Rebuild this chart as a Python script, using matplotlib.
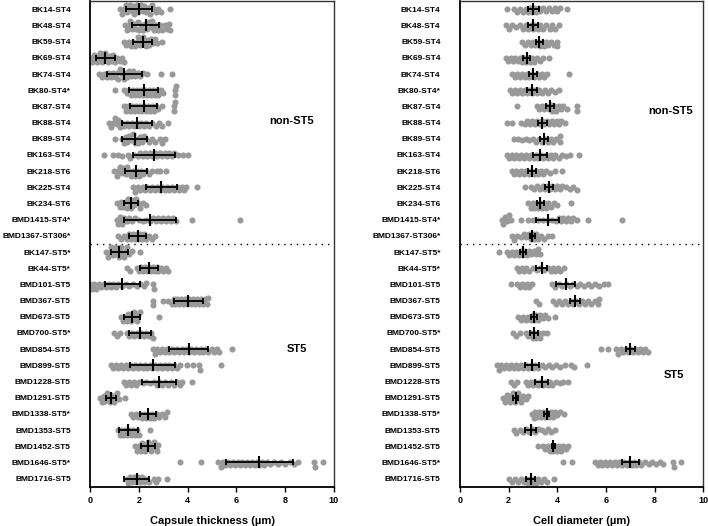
import numpy as np
import matplotlib
matplotlib.use('Agg')
from matplotlib import pyplot as plt

plt.rcParams['font.family'] = ['Liberation Sans', 'DejaVu Sans']
plt.rcParams['font.weight'] = 'bold'

strains = ['BK14-ST4', 'BK48-ST4', 'BK59-ST4', 'BK69-ST4', 'BK74-ST4', 'BK80-ST4*',
           'BK87-ST4', 'BK88-ST4', 'BK89-ST4', 'BK163-ST4', 'BK218-ST6', 'BK225-ST4',
           'BK234-ST6', 'BMD1415-ST4*', 'BMD1367-ST306*', 'BK147-ST5*', 'BK44-ST5*',
           'BMD101-ST5', 'BMD367-ST5', 'BMD673-ST5', 'BMD700-ST5*', 'BMD854-ST5',
           'BMD899-ST5', 'BMD1228-ST5', 'BMD1291-ST5', 'BMD1338-ST5*', 'BMD1353-ST5',
           'BMD1452-ST5', 'BMD1646-ST5*', 'BMD1716-ST5']

# capsule thickness (um), one list per strain
capsule_points = [
    [1.22,1.30,1.38,1.45,1.52,1.58,1.63,1.70,1.75,1.80,1.86,1.92,1.97,2.03,2.08,2.15,2.22,2.30,2.38,2.45,2.52,2.60,2.70,2.80,2.92,3.27],
    [1.42,1.50,1.58,1.65,1.72,1.80,1.88,1.95,2.02,2.10,2.18,2.25,2.32,2.40,2.48,2.55,2.62,2.70,2.78,2.86,2.95,3.05,3.15,3.22,3.27],
    [1.38,1.48,1.58,1.66,1.74,1.82,1.90,1.97,2.04,2.10,2.16,2.22,2.28,2.35,2.42,2.50,2.58,2.66,2.75,2.96],
    [0.02,0.08,0.15,0.20,0.26,0.32,0.38,0.44,0.50,0.56,0.62,0.68,0.74,0.80,0.88,0.95,1.02,1.10,1.20,1.30,1.38],
    [0.37,0.48,0.58,0.68,0.76,0.84,0.92,1.00,1.08,1.15,1.22,1.30,1.38,1.45,1.52,1.60,1.68,1.76,1.85,1.95,2.05,2.18,2.35,2.89,3.36],
    [1.01,1.40,1.50,1.60,1.68,1.76,1.84,1.92,2.00,2.08,2.16,2.24,2.32,2.40,2.48,2.56,2.64,2.72,2.80,2.90,3.00,3.50,3.50,3.52],
    [1.38,1.46,1.55,1.63,1.72,1.80,1.88,1.96,2.04,2.12,2.20,2.28,2.36,2.44,2.52,2.60,2.70,2.80,2.95,3.45,3.45,3.47],
    [0.77,0.85,0.93,1.00,1.08,1.15,1.22,1.30,1.40,1.50,1.60,1.70,1.80,1.90,2.00,2.10,2.20,2.30,2.42,2.55,2.68,2.82,2.95,3.20],
    [1.01,1.30,1.38,1.45,1.52,1.60,1.68,1.75,1.82,1.90,1.98,2.05,2.12,2.20,2.30,2.42,2.55,2.65,2.88,2.95,3.05],
    [0.58,0.95,1.15,1.30,1.55,1.65,1.80,1.95,2.05,2.15,2.25,2.35,2.45,2.55,2.65,2.75,2.85,2.95,3.05,3.15,3.25,3.35,3.45,3.60,3.80,4.03],
    [0.99,1.08,1.15,1.22,1.30,1.38,1.45,1.52,1.60,1.68,1.76,1.84,1.92,2.00,2.08,2.18,2.28,2.40,2.55,2.72,2.88,3.10],
    [1.77,1.85,1.95,2.05,2.15,2.25,2.35,2.45,2.55,2.65,2.75,2.85,2.95,3.05,3.15,3.25,3.35,3.45,3.55,3.65,3.75,3.85,3.95,4.40],
    [1.10,1.20,1.28,1.36,1.44,1.50,1.56,1.62,1.68,1.74,1.80,1.88,1.96,2.05,2.15,2.30],
    [1.08,1.14,1.20,1.26,1.32,1.40,1.50,1.60,1.72,1.85,2.00,2.15,2.30,2.45,2.58,2.70,2.80,2.90,3.00,3.10,3.20,3.30,3.40,3.52,4.19,6.15],
    [1.15,1.28,1.40,1.50,1.58,1.66,1.74,1.82,1.90,1.98,2.06,2.14,2.22,2.30,2.40,2.52,2.66],
    [0.64,0.72,0.80,0.86,0.92,0.98,1.04,1.10,1.16,1.22,1.28,1.34,1.40,1.46,1.52,1.60,1.70,2.04],
    [1.49,1.63,1.90,2.00,2.08,2.16,2.24,2.32,2.40,2.48,2.56,2.64,2.72,2.80,2.90,3.00,3.10,3.20],
    [0.00,0.08,0.16,0.25,0.35,0.45,0.55,0.65,0.75,0.85,0.95,1.05,1.15,1.30,1.45,1.60,1.75,1.90,2.05,2.20,2.30,2.56,2.62],
    [2.59,2.59,2.97,3.20,3.34,3.42,3.50,3.58,3.66,3.74,3.82,3.90,3.98,4.06,4.14,4.22,4.30,4.38,4.46,4.54,4.62,4.70,4.78,4.85],
    [1.26,1.34,1.42,1.50,1.56,1.62,1.68,1.74,1.80,1.86,1.92,1.98,2.04,2.84],
    [0.97,1.10,1.20,1.50,1.60,1.70,1.80,1.90,2.00,2.10,2.20,2.30,2.40,2.50,2.58],
    [2.56,2.65,2.75,2.85,2.95,3.05,3.15,3.25,3.35,3.45,3.55,3.65,3.75,3.85,3.95,4.05,4.15,4.25,4.35,4.45,4.55,4.65,4.75,4.85,5.00,5.10,5.20,5.30,5.81],
    [0.85,0.95,1.05,1.15,1.25,1.35,1.45,1.55,1.65,1.75,1.85,1.95,2.05,2.15,2.25,2.35,2.45,2.55,2.65,2.75,2.85,2.95,3.05,3.15,3.25,3.35,3.45,3.55,3.70,3.96,4.20,4.47,4.52,5.37],
    [1.38,1.48,1.58,1.68,1.78,1.88,2.00,2.15,2.30,2.45,2.60,2.72,2.84,2.96,3.08,3.20,3.32,3.44,3.56,3.68,3.78,4.16],
    [0.40,0.48,0.55,0.62,0.68,0.74,0.80,0.86,0.92,0.98,1.04,1.10,1.18,1.44],
    [1.66,1.76,1.86,1.96,2.06,2.14,2.22,2.30,2.38,2.46,2.54,2.62,2.72,2.82,2.94,3.06,3.14],
    [1.12,1.20,1.28,1.36,1.44,1.52,1.60,1.68,1.76,1.84,1.93,2.02,2.47],
    [1.84,1.92,2.00,2.08,2.14,2.20,2.26,2.32,2.38,2.44,2.50,2.56,2.62,2.68,2.74,2.79],
    [3.70,4.55,5.26,5.35,5.45,5.55,5.65,5.75,5.85,5.95,6.05,6.15,6.25,6.35,6.45,6.55,6.65,6.75,6.85,6.95,7.05,7.15,7.25,7.40,7.55,7.70,7.85,8.00,8.20,8.35,8.55,9.20,9.25,9.58],
    [1.49,1.56,1.64,1.72,1.80,1.88,1.96,2.04,2.12,2.20,2.30,2.42,2.60,2.70,2.80,3.14],
]
capsule_mean = [2.00, 2.27, 2.15, 0.62, 1.40, 2.19, 2.20, 1.92, 1.82, 2.62, 1.89, 2.92, 1.67, 2.45, 1.95,
                1.19, 2.41, 1.32, 4.03, 1.71, 2.03, 4.04, 2.56, 2.82, 0.85, 2.38, 1.56, 2.36, 6.95, 1.90]
capsule_sd = [0.55, 0.55, 0.38, 0.38, 0.72, 0.60, 0.55, 0.63, 0.50, 0.88, 0.45, 0.65, 0.28, 1.07, 0.35,
              0.36, 0.38, 0.73, 0.60, 0.32, 0.45, 0.80, 0.92, 0.70, 0.22, 0.32, 0.38, 0.28, 1.36, 0.50]

# cell diameter (um)
cell_points = [
    [1.92,2.22,2.35,2.48,2.60,2.70,2.80,2.88,2.96,3.04,3.12,3.20,3.30,3.40,3.52,3.65,3.78,3.90,4.00,4.10,4.41],
    [1.88,2.00,2.15,2.30,2.45,2.58,2.70,2.80,2.90,3.00,3.10,3.20,3.30,3.42,3.55,3.68,3.80,3.92,4.07],
    [2.53,2.65,2.78,2.90,3.00,3.10,3.20,3.28,3.36,3.44,3.52,3.62,3.72,3.85,4.00,4.00],
    [1.88,1.98,2.08,2.18,2.28,2.38,2.48,2.56,2.64,2.72,2.80,2.88,2.96,3.05,3.15,3.28,3.40,3.67],
    [2.15,2.25,2.35,2.45,2.55,2.65,2.75,2.85,2.95,3.05,3.15,3.25,3.35,3.45,3.56,4.48],
    [2.05,2.15,2.25,2.35,2.45,2.55,2.65,2.75,2.85,2.95,3.05,3.15,3.25,3.38,3.50,3.62,3.75,3.90,4.07],
    [2.34,3.15,3.25,3.35,3.45,3.55,3.65,3.72,3.80,3.88,3.96,4.05,4.15,4.25,4.38,4.82,4.82],
    [1.92,2.15,2.52,2.67,2.77,2.87,2.97,3.07,3.17,3.27,3.37,3.47,3.57,3.67,3.77,3.87,3.97,4.07,4.17,4.32],
    [2.23,2.40,2.55,2.70,2.85,3.00,3.12,3.24,3.36,3.48,3.60,3.72,3.84,3.96,4.10,4.10],
    [1.92,2.02,2.12,2.22,2.32,2.42,2.52,2.62,2.72,2.82,2.92,3.02,3.12,3.22,3.32,3.42,3.52,3.62,3.72,3.82,3.92,4.05,4.20,4.35,4.52,4.90],
    [2.12,2.22,2.32,2.42,2.52,2.62,2.72,2.82,2.92,3.02,3.12,3.22,3.32,3.42,3.55,3.70,3.90,4.18],
    [2.67,2.90,3.05,3.18,3.30,3.40,3.50,3.60,3.70,3.80,3.90,4.00,4.10,4.20,4.35,4.50,4.65,4.79],
    [2.81,2.90,2.98,3.06,3.14,3.22,3.30,3.38,3.46,3.54,3.62,3.72,3.85,4.00,4.55],
    [1.71,1.78,1.85,1.92,2.00,2.10,2.50,2.80,3.00,3.20,3.40,3.60,3.80,3.95,4.05,4.15,4.25,4.35,4.45,4.55,4.65,4.82,5.25,6.64],
    [2.12,2.20,2.35,2.50,2.62,2.72,2.82,2.90,2.98,3.06,3.14,3.22,3.32,3.45,3.60,3.77],
    [1.62,1.92,2.02,2.12,2.22,2.32,2.42,2.50,2.58,2.66,2.74,2.82,2.92,3.02,3.12,3.20,3.29],
    [2.33,2.43,2.53,2.63,2.73,2.85,3.00,3.15,3.30,3.45,3.60,3.72,3.82,3.92,4.02,4.12,4.27],
    [2.10,2.33,2.45,2.55,2.65,2.75,2.85,2.95,3.77,3.90,4.05,4.20,4.35,4.50,4.65,4.80,4.95,5.10,5.25,5.40,5.55,5.70,5.90,6.10],
    [3.11,3.25,3.84,3.95,4.06,4.18,4.30,4.42,4.54,4.66,4.78,4.90,5.02,5.14,5.26,5.40,5.55,5.65,5.73],
    [2.40,2.50,2.60,2.70,2.80,2.90,2.98,3.06,3.14,3.22,3.30,3.40,3.50,3.62,3.90],
    [2.19,2.30,2.45,2.70,2.80,2.90,2.98,3.06,3.14,3.22,3.30,3.40,3.56],
    [5.81,6.10,6.41,6.50,6.60,6.70,6.80,6.90,7.00,7.10,7.20,7.30,7.40,7.50,7.62,7.74],
    [1.51,1.60,1.70,1.80,1.90,2.00,2.10,2.20,2.30,2.40,2.50,2.60,2.70,2.80,2.90,3.00,3.10,3.20,3.35,3.50,3.65,3.80,3.95,4.10,4.30,4.55,4.70,5.21],
    [2.08,2.20,2.35,2.70,2.80,2.90,3.00,3.10,3.20,3.30,3.40,3.50,3.60,3.70,3.80,3.95,4.10,4.25,4.45],
    [1.78,1.85,1.92,1.98,2.04,2.10,2.16,2.22,2.28,2.34,2.40,2.46,2.52,2.60,2.70,2.81],
    [2.95,3.02,3.10,3.18,3.26,3.34,3.42,3.50,3.58,3.66,3.74,3.82,3.90,4.00,4.12,4.27],
    [2.22,2.32,2.45,2.60,2.72,2.84,2.96,3.08,3.20,3.35,3.50,3.62,3.75,3.90],
    [3.19,3.40,3.50,3.60,3.68,3.76,3.84,3.92,4.00,4.08,4.16,4.25,4.35,4.45],
    [4.22,4.59,5.55,5.65,5.75,5.85,5.95,6.05,6.15,6.25,6.35,6.45,6.55,6.65,6.75,6.85,6.95,7.05,7.15,7.25,7.35,7.45,7.60,7.75,7.90,8.05,8.20,8.35,8.75,8.80,9.08],
    [2.03,2.15,2.28,2.40,2.52,2.62,2.72,2.80,2.88,2.96,3.04,3.12,3.22,3.32,3.45,3.59,3.86],
]
cell_mean = [3.01, 2.99, 3.26, 2.74, 3.01, 2.96, 3.70, 3.38, 3.45, 3.29, 2.97, 3.66, 3.30, 3.60, 2.97,
             2.58, 3.36, 4.34, 4.73, 3.04, 3.04, 6.99, 2.95, 3.36, 2.29, 3.56, 2.90, 3.84, 6.99, 2.90]
cell_sd = [0.22, 0.20, 0.14, 0.15, 0.17, 0.19, 0.18, 0.18, 0.17, 0.29, 0.17, 0.17, 0.15, 0.47, 0.10,
           0.13, 0.23, 0.39, 0.22, 0.11, 0.18, 0.19, 0.29, 0.27, 0.10, 0.11, 0.24, 0.08, 0.35, 0.17]


# 겹치는 점을 위아래로 펼치기 (pixel 단위)
def swarm(xs_px, d, max_off):
    step = d * 0.4
    placed = []
    offs = np.zeros(len(xs_px))
    for i in np.argsort(xs_px):
        x = xs_px[i]
        cands = [0.0]
        k = 1
        while k * step <= max_off:
            cands += [k * step, -k * step]
            k += 1
        best = None
        for y in cands:
            if all((x - px) ** 2 + (y - py) ** 2 >= d * d for px, py in placed):
                best = y
                break
        if best is None:
            best = max(cands, key=lambda y: min((x - px) ** 2 + (y - py) ** 2 for px, py in placed))
        placed.append((x, best))
        offs[i] = best
    return offs


fig = plt.figure(figsize=(7.08, 5.26), dpi=100)
ax1 = fig.add_axes([90.3 / 708, 1 - 486.7 / 526, 243.4 / 708, 485.5 / 526])
ax2 = fig.add_axes([460.0 / 708, 1 - 486.7 / 526, 243.4 / 708, 485.5 / 526])

panels = [
    (ax1, capsule_points, capsule_mean, capsule_sd, 'Capsule thickness (\u00b5m)',
     (8.25, 6.9), (8.5, 21.0)),
    (ax2, cell_points, cell_mean, cell_sd, 'Cell diameter (\u00b5m)',
     (8.65, 6.3), (8.8, 22.6)),
]

px_per_x = 243.4 / 10
px_per_row = 485.5 / 30

for ax, pts, mean, sd, xlab, lab1, lab2 in panels:
    for i, vals in enumerate(pts):
        v = np.array(vals)
        off = swarm(v * px_per_x, 3.8, 5.4) / px_per_row
        ax.plot(v, i + off, 'o', ms=4.4, color='#999999', mec='none', zorder=2)
    y = np.arange(len(strains))
    ax.errorbar(mean, y, xerr=sd, fmt='none', ecolor='black', elinewidth=1.3,
                capsize=2.5, capthick=1.3, zorder=3)
    ax.plot(mean, y, '|', ms=8.5, mew=1.5, color='black', zorder=4)

    ax.axhline(14.5, color='black', lw=1.0, ls=(0, (1, 3.5)), zorder=1)

    ax.set_xlim(0, 10)
    ax.set_ylim(29.5, -0.5)
    ax.set_xticks([0, 2, 4, 6, 8, 10])
    ax.set_yticks(y)
    ax.set_yticklabels(strains)
    ax.tick_params(axis='y', length=0, pad=14, labelsize=6)
    ax.tick_params(axis='x', length=3.5, width=1.0, labelsize=6.5, pad=3)
    for lab in ax.get_xticklabels() + ax.get_yticklabels():
        lab.set_fontweight('bold')
    for s in ['left', 'bottom']:
        ax.spines[s].set_linewidth(1.3)
    for s in ['top', 'right']:
        ax.spines[s].set_linewidth(1.0)
        ax.spines[s].set_color('#333333')
    ax.set_xlabel(xlab, fontsize=8, fontweight='bold', labelpad=8)

    ax.text(lab1[0], lab1[1], 'non-ST5', fontsize=8, fontweight='bold',
            ha='center', va='center')
    ax.text(lab2[0], lab2[1], 'ST5', fontsize=8, fontweight='bold',
            ha='center', va='center')

fig.savefig('out.png', dpi=100)
